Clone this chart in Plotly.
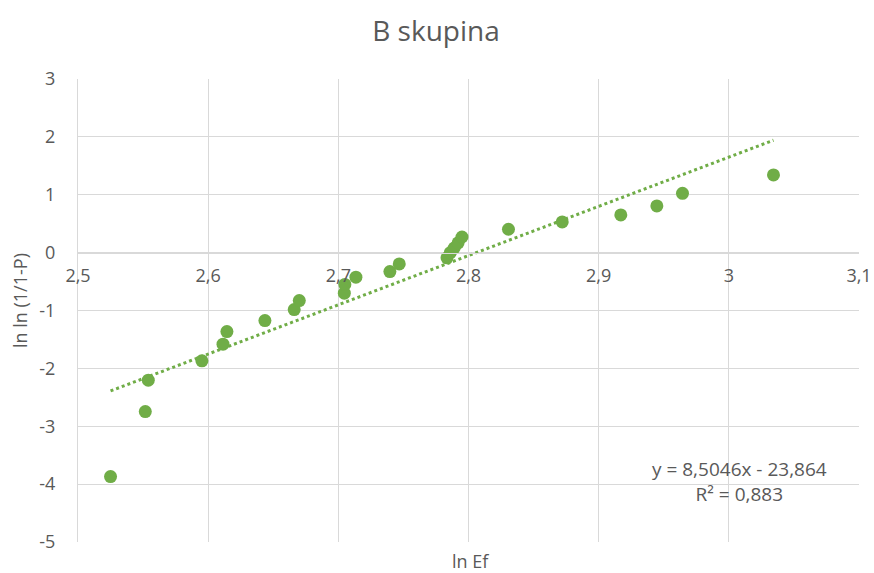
import plotly.graph_objects as go
import numpy as np

# Data
ln_ef = [2.525, 2.5517, 2.554, 2.5952, 2.6114, 2.6144, 2.6436, 2.6661, 2.670,
         2.7046, 2.705, 2.7135, 2.7396, 2.7468,
         2.7835, 2.786, 2.789, 2.792, 2.795,
         2.8307, 2.872, 2.917, 2.9447, 2.9644, 3.0343]
lnln = [-3.87, -2.746, -2.204, -1.87, -1.582, -1.364, -1.174, -0.984, -0.829,
        -0.70, -0.55, -0.425, -0.328, -0.195,
        -0.09, 0.0, 0.08, 0.17, 0.27,
        0.404, 0.53, 0.651, 0.807, 1.025, 1.342]

slope = 8.5046
intercept = -23.864
r2 = 0.883

x_ticks = [2.5, 2.6, 2.7, 2.8, 2.9, 3.0, 3.1]
x_ticktext = ["2,5", "2,6", "2,7", "2,8", "2,9", "3", "3,1"]
y_ticks = [3, 2, 1, 0, -1, -2, -3, -4, -5]
y_ticktext = ["3", "2", "1", "0", "-1", "-2", "-3", "-4", "-5"]

green = "#70AD47"
grey_text = "#595959"
grid = "#D9D9D9"
font_family = "Open Sans"

trend_x = np.array([min(ln_ef), max(ln_ef)])
trend_y = slope * trend_x + intercept

fig = go.Figure()
fig.add_trace(go.Scatter(
    x=trend_x, y=trend_y, mode="lines",
    line=dict(color=green, width=3, dash="dot"),
    hoverinfo="skip", showlegend=False))
fig.add_trace(go.Scatter(
    x=ln_ef, y=lnln, mode="markers",
    marker=dict(color=green, size=13, line=dict(width=0)),
    showlegend=False))

W, H = 874, 573
fig.update_layout(
    width=W, height=H,
    paper_bgcolor="white", plot_bgcolor="white",
    margin=dict(l=78, r=15, t=79, b=31, autoexpand=False),
    title=dict(text="B skupina", x=436 / W, xanchor="center", y=1 - 31 / H, yanchor="middle",
               yref="container", xref="container", automargin=False,
               font=dict(family=font_family, size=28, color=grey_text)),
    font=dict(family=font_family, color=grey_text, size=18),
    xaxis=dict(range=[2.5, 3.1], tickvals=x_ticks, ticktext=x_ticktext,
               showgrid=True, gridcolor=grid, gridwidth=1,
               zeroline=False, showline=True, linecolor=grid, linewidth=1,
               anchor="free", position=0.625, ticks="", automargin=False,
               ticklabelstandoff=7,
               tickfont=dict(family=font_family, size=18, color=grey_text),
               mirror=False),
    yaxis=dict(range=[-5, 3], tickvals=y_ticks, ticktext=y_ticktext,
               showgrid=True, gridcolor=grid, gridwidth=1, automargin=False,
               zeroline=False, showline=True, linecolor=grid, linewidth=1,
               ticks="", ticklabelstandoff=18,
               tickfont=dict(family=font_family, size=18, color=grey_text)),
)

fig.add_annotation(text="ln Ef", xref="paper", yref="paper", x=(470 - 78) / 781, y=0,
                   yshift=-19, showarrow=False, xanchor="center", yanchor="middle",
                   font=dict(family=font_family, size=18, color=grey_text))
fig.add_annotation(text="ln ln (1/1-P)", xref="paper", yref="paper", x=0, y=(542 - 301) / 463,
                   xshift=-58, showarrow=False, textangle=-90, xanchor="center", yanchor="middle",
                   font=dict(family=font_family, size=18, color=grey_text))
fig.add_annotation(text="y = 8,5046x - 23,864<br>R² = 0,883", xref="x", yref="y",
                   x=3.0085, y=-3.95, showarrow=False, align="center",
                   xanchor="center", yanchor="middle",
                   font=dict(family=font_family, size=19, color=grey_text))

fig.write_html("out.html",
               config={"displayModeBar": False},
               post_script="document.body.style.margin='0';document.body.style.overflow='hidden';")
